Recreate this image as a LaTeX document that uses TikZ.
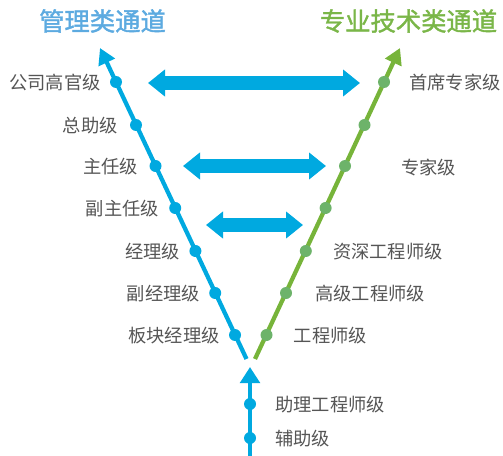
\documentclass[tikz,border=0pt]{standalone}
\usepackage{fontspec}
\setmainfont{Noto Sans CJK SC}
\newfontfamily\ttlfont[FakeBold=1.6]{Noto Sans CJK SC}
\usetikzlibrary{arrows.meta,calc}
\definecolor{cblue}{HTML}{00A9E0}
\definecolor{cgreen}{HTML}{77B43A}
\definecolor{cgdot}{HTML}{6DB36A}
\definecolor{tblue}{HTML}{5CAAE0}
\definecolor{tgreen}{HTML}{7AB648}
\definecolor{tgray}{HTML}{555555}
\begin{document}
\begin{tikzpicture}[x=0.75pt,y=-0.75pt,
  bdot/.style={circle,fill=cblue,inner sep=0pt,minimum size=9pt},
  gdot/.style={circle,fill=cgdot,inner sep=0pt,minimum size=9pt},
  lab/.style={text=tgray,font=\fontsize{13.7}{16}\selectfont,inner sep=0pt},
  ttl/.style={font=\fontsize{19}{22}\selectfont\ttlfont,inner sep=0pt},
  harrow/.style={draw=cblue,line width=10.5pt,arrows={Triangle[length=12.75pt 0 0,width=19.5pt 0 0]-Triangle[length=12.75pt 0 0,width=19.5pt 0 0]}},
  bline/.style={draw=cblue,line width=3.2pt,arrows={-Triangle[length=12pt 0 0,width=13pt 0 0]}},
  gline/.style={draw=cgreen,line width=3.2pt,arrows={-Triangle[length=12pt 0 0,width=13pt 0 0]}},
  vline/.style={draw=cblue,line width=3.5pt,arrows={-Triangle[length=12pt 0 0,width=14.5pt 0 0]}}
]
\useasboundingbox (0,0) rectangle (503,456);

% titles
\node[ttl,text=tblue] (t1) at (102.5,21) {管理类通道};
\node[ttl,text=tgreen] (t2) at (408.5,21) {专业技术类通道};

% main lines
\coordinate (bbot) at (246.5,359);
\coordinate (btop) at (100,48);
\coordinate (gbot) at (255,359);
\coordinate (gtop) at (400,48);
\coordinate (vbot) at (250,456);
\coordinate (vtop) at (250,367);
\draw[bline] (bbot) -- (btop);
\draw[gline] (gbot) -- (gtop);
\draw[vline] (vbot) -- (vtop);

% blue dots
\node[bdot] (b1) at (116,82) {};
\node[bdot] (b2) at (136,125) {};
\node[bdot] (b3) at (155.5,166) {};
\node[bdot] (b4) at (175.2,208) {};
\node[bdot] (b5) at (195.4,251) {};
\node[bdot] (b6) at (215.2,293) {};
\node[bdot] (b7) at (235,335) {};
% green dots
\node[gdot] (g1) at (384,82) {};
\node[gdot] (g2) at (364.5,125) {};
\node[gdot] (g3) at (345,166) {};
\node[gdot] (g4) at (325.6,208) {};
\node[gdot] (g5) at (305.8,251) {};
\node[gdot] (g6) at (286,293) {};
\node[gdot] (g7) at (266.5,335) {};
% vertical dots
\node[bdot] (v1) at (250,404) {};
\node[bdot] (v2) at (250,438) {};

% left labels
\node[lab,anchor=east] (lb1) at ($(b1)+(-15,1)$) {公司高官级};
\node[lab,anchor=east] (lb2) at ($(b2)+(-18,1)$) {总助级};
\node[lab,anchor=east] (lb3) at ($(b3)+(-17,1)$) {主任级};
\node[lab,anchor=east] (lb4) at ($(b4)+(-16,1)$) {副主任级};
\node[lab,anchor=east] (lb5) at ($(b5)+(-15,1)$) {经理级};
\node[lab,anchor=east] (lb6) at ($(b6)+(-15,1)$) {副经理级};
\node[lab,anchor=east] (lb7) at ($(b7)+(-15,1)$) {板块经理级};
% right labels
\node[lab,anchor=west] (lg1) at ($(g1)+(25,1)$) {首席专家级};
\node[lab,anchor=west] (lg3) at (401,168) {专家级};
\node[lab,anchor=west] (lg5) at ($(g5)+(27,1)$) {资深工程师级};
\node[lab,anchor=west] (lg6) at ($(g6)+(29,1)$) {高级工程师级};
\node[lab,anchor=west] (lg7) at ($(g7)+(27,1)$) {工程师级};
% bottom labels
\node[lab,anchor=west] (lv1) at (275,405) {助理工程师级};
\node[lab,anchor=west] (lv2) at (275,439) {辅助级};

% horizontal double arrows
\coordinate (h1l) at (148,83);
\coordinate (h1r) at (360,83);
\coordinate (h2l) at (183,166);
\coordinate (h2r) at (326,166);
\coordinate (h3l) at (206,225);
\coordinate (h3r) at (303,225);
\draw[harrow] (h1l) -- (h1r);
\draw[harrow] (h2l) -- (h2r);
\draw[harrow] (h3l) -- (h3r);
\end{tikzpicture}
\end{document}
